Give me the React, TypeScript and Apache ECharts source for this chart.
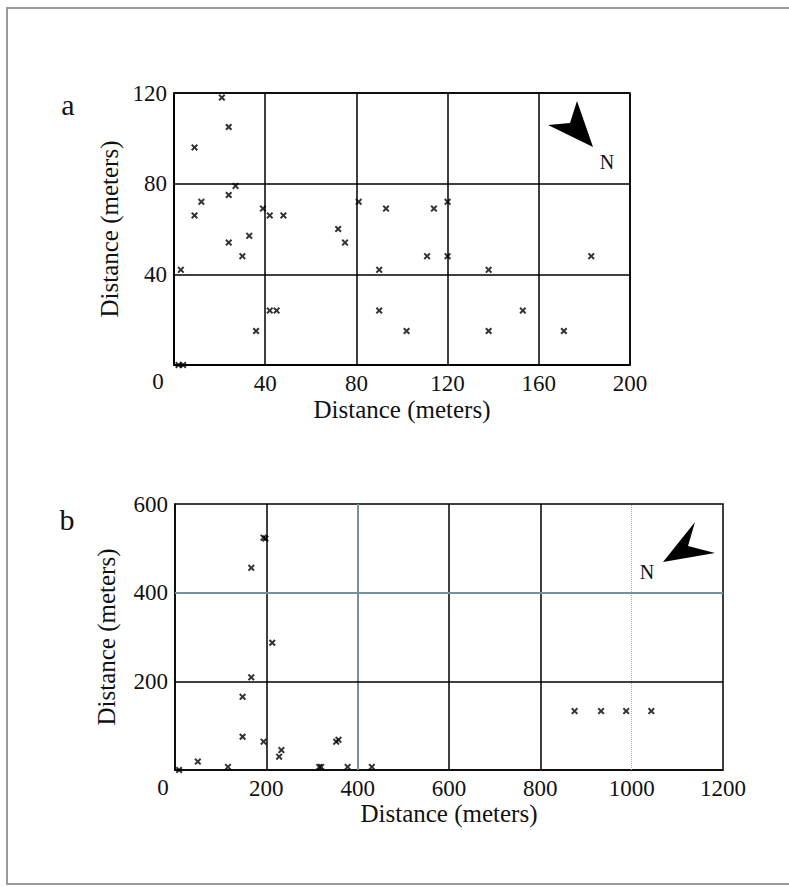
import React, { useEffect, useRef } from "react";
import * as echarts from "echarts";

// Panel a: site coordinates (meters)
const aX = [21, 24, 9, 27, 24, 12, 9, 39, 42, 48, 33, 24, 30, 72, 75, 3, 42, 45, 36, 2, 4, 81, 93, 114, 120, 111, 120, 90, 138, 183, 90, 153, 102, 138, 171];
const aY = [118, 105, 96, 79, 75, 72, 66, 69, 66, 66, 57, 54, 48, 60, 54, 42, 24, 24, 15, 0, 0, 72, 69, 69, 72, 48, 48, 42, 42, 48, 24, 24, 15, 15, 15];
const aXTicks = [0, 40, 80, 120, 160, 200];
const aYTicks = [0, 40, 80, 120];

// Panel b: site coordinates (meters)
const bX = [194, 198, 167, 213, 167, 148, 148, 194, 233, 228, 353, 358, 50, 116, 9, 316, 320, 378, 431, 875, 933, 988, 1043];
const bY = [524, 522, 456, 287, 209, 165, 75, 64, 45, 30, 64, 68, 19, 7, 0, 7, 7, 7, 7, 133, 133, 133, 133];
const bXTicks = [0, 200, 400, 600, 800, 1000, 1200];
const bYTicks = [0, 200, 400, 600];

const AXIS_TITLE = "Distance (meters)";
const SERIF = "'Liberation Serif', 'DejaVu Serif', serif";
const X_SYMBOL = "path://M0,2L2,0L5,3L8,0L10,2L7,5L10,8L8,10L5,7L2,10L0,8L3,5Z";

export default function App() {
  const ref = useRef<HTMLDivElement>(null);
  useEffect(() => {
    if (!ref.current) return;
    const chart = echarts.init(ref.current, undefined, { renderer: "svg" });
    const labelStyle = { fontFamily: SERIF, fontSize: 23, color: "#111" };
    const nameStyle = { fontFamily: SERIF, fontSize: 25, color: "#111" };
    const black = { color: "#000", width: 1.5, type: "solid" as const };
    const mkAxis = (idx: number, ticks: number[], gap: number) => ({
      type: "value" as const,
      gridIndex: idx,
      min: ticks[0],
      max: ticks[ticks.length - 1],
      interval: ticks[1] - ticks[0],
      name: AXIS_TITLE,
      nameLocation: "middle" as const,
      nameGap: gap,
      nameTextStyle: nameStyle,
      axisLine: { show: true, lineStyle: black },
      axisTick: { show: false },
      axisLabel: { ...labelStyle, margin: 7, showMinLabel: false, formatter: (v: number) => String(v) },
      splitLine: { show: idx === 0, lineStyle: black },
    });
    const blueGray = { color: "#7590a0", width: 2, type: "solid" as const };
    chart.setOption({
      animation: false,
      backgroundColor: "#fff",
      grid: [
        { left: 174, top: 93, width: 456, height: 272, show: true, borderColor: "#000", borderWidth: 1.5, backgroundColor: "transparent" },
        { left: 175, top: 504, width: 548, height: 266, show: true, borderColor: "#000", borderWidth: 1.5, backgroundColor: "transparent" },
      ],
      xAxis: [mkAxis(0, aXTicks, 32), mkAxis(1, bXTicks, 22)],
      yAxis: [mkAxis(0, aYTicks, 52), mkAxis(1, bYTicks, 56)],
      series: [
        {
          type: "scatter",
          xAxisIndex: 0,
          yAxisIndex: 0,
          symbol: X_SYMBOL,
          symbolSize: 7,
          itemStyle: { color: "#000" },
          data: aX.map((x, i) => [x, aY[i]]),
          z: 5,
        },
        {
          type: "scatter",
          xAxisIndex: 1,
          yAxisIndex: 1,
          symbol: X_SYMBOL,
          symbolSize: 7,
          itemStyle: { color: "#000" },
          data: bX.map((x, i) => [x, bY[i]]),
          z: 5,
          markLine: {
            silent: true,
            symbol: ["none", "none"],
            label: { show: false },
            data: [
              { xAxis: 200, lineStyle: black },
              { xAxis: 400, lineStyle: blueGray },
              { xAxis: 600, lineStyle: black },
              { xAxis: 800, lineStyle: black },
              { xAxis: 1000, lineStyle: { color: "#8fb6d4", width: 1, type: "dotted" } },
              { yAxis: 200, lineStyle: black },
              { yAxis: 400, lineStyle: blueGray },
            ],
          },
        },
      ],
      graphic: [
        { type: "rect", shape: { x: 7, y: 8, width: 800, height: 876 }, style: { fill: "none", stroke: "#9a9a9a", lineWidth: 2 }, z: 0 },
        { type: "text", x: 68, y: 104, style: { text: "a", font: `30px ${SERIF}`, fill: "#111", align: "center", verticalAlign: "middle" } },
        { type: "text", x: 67, y: 519, style: { text: "b", font: `30px ${SERIF}`, fill: "#111", align: "center", verticalAlign: "middle" } },
        { type: "text", x: 158, y: 381, style: { text: "0", font: `23px ${SERIF}`, fill: "#111", align: "center", verticalAlign: "middle" } },
        { type: "text", x: 163, y: 787, style: { text: "0", font: `23px ${SERIF}`, fill: "#111", align: "center", verticalAlign: "middle" } },
        { type: "polygon", shape: { points: [[548, 125], [570, 123], [577, 101], [593, 147]] }, style: { fill: "#000" }, z: 10 },
        { type: "text", x: 607, y: 162, style: { text: "N", font: `20px ${SERIF}`, fill: "#111", align: "center", verticalAlign: "middle" }, z: 10 },
        { type: "polygon", shape: { points: [[663, 562], [695, 522], [688, 546], [715, 553]] }, style: { fill: "#000" }, z: 10 },
        { type: "text", x: 647, y: 572, style: { text: "N", font: `20px ${SERIF}`, fill: "#111", align: "center", verticalAlign: "middle" }, z: 10 },
      ],
    });
    return () => chart.dispose();
  }, []);
  return <div ref={ref} style={{ position: "absolute", left: 0, top: 0, width: 789, height: 887, background: "#fff" }} />;
}
